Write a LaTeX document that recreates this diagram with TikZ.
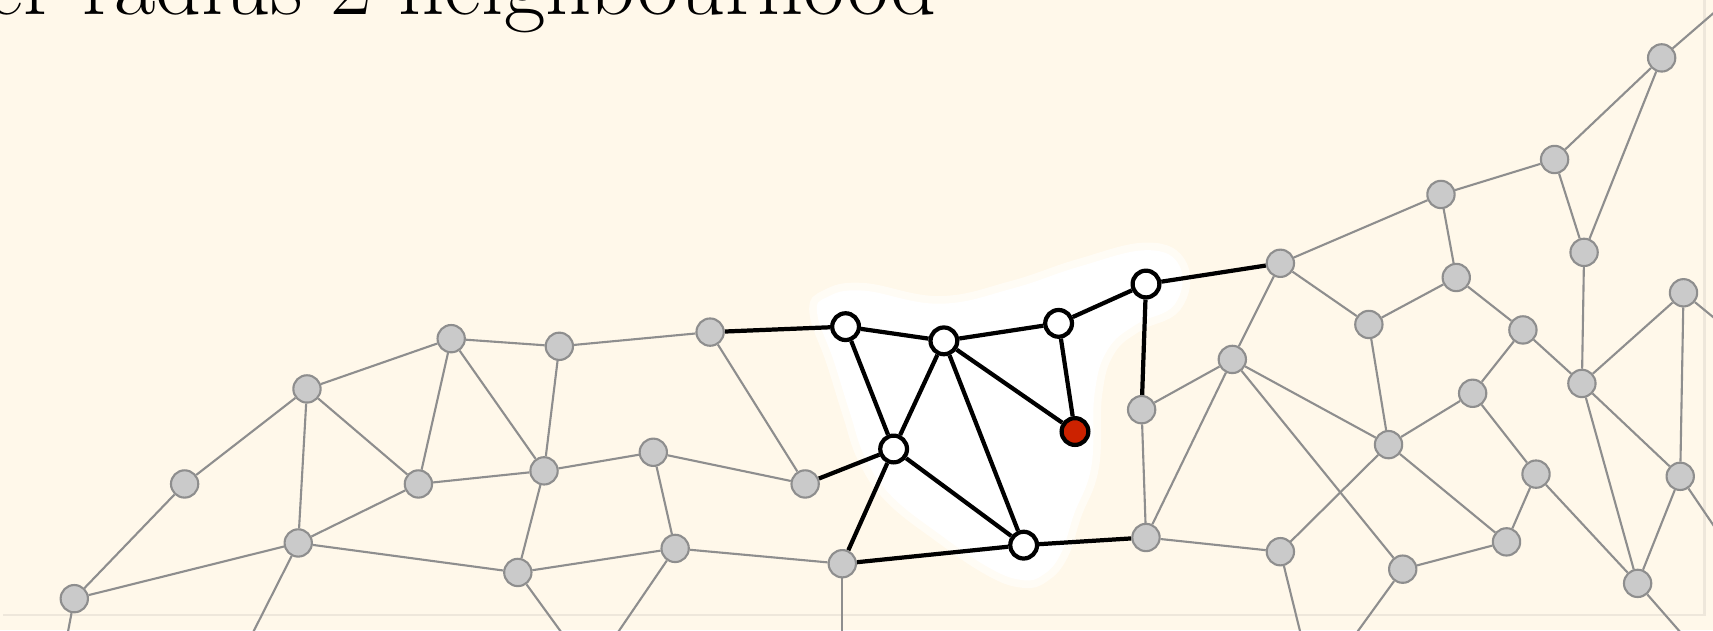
\documentclass[tikz,border=0pt]{standalone}
\usepackage{tikz}
\usetikzlibrary{positioning}
\definecolor{nbcream}{RGB}{255,248,234}
\definecolor{nbhalo}{RGB}{255,252,245}
\definecolor{nbgray}{RGB}{202,202,202}
\definecolor{nbedge}{RGB}{142,142,142}
\definecolor{nbred}{RGB}{204,34,0}
\definecolor{nbframe}{RGB}{238,231,219}
\pgfdeclarelayer{back}
\pgfdeclarelayer{links}
\pgfsetlayers{back,links,main}

\begin{document}
\begin{tikzpicture}[x=0.1mm, y=-0.1mm,
  gnode/.style={circle, inner sep=0pt, minimum size=2.5mm, fill=nbgray, draw=nbedge, line width=0.55pt},
  hnode/.style={circle, inner sep=0pt, minimum size=2.45mm, fill=white, draw=black, line width=1.1pt},
  rootnode/.style={hnode, fill=nbred},
  gedge/.style={nbedge, line width=0.55pt},
  hedge/.style={black, line width=1.1pt}]
\useasboundingbox (0,0) rectangle (1568,577);
\clip (0,0) rectangle (1568,577);
% Background, frame and neighbourhood blob
\begin{pgfonlayer}{back}
\clip (0,0) rectangle (1568,577);
\fill[nbcream] (0,0) rectangle (1568,577);
\draw[nbframe, line width=0.25mm] (3,563) -- (1560,563) -- (1560,0);
\draw[nbhalo, line width=1.4mm, fill=white] plot[smooth cycle, tension=0.7] coordinates {
  (748,287) (757,272) (790,266) (860,278) (927,264) (988,244) (1050,229) (1080,244)
  (1075,279) (1040,297) (1014,320) (1002,360) (999,427) (983,471) (971,507) (955,526)
  (936,531) (906,520) (860,489) (816,454) (792,419) (778,378) (763,330)};
\fill[white] plot[smooth cycle, tension=0.7] coordinates {
  (748,287) (757,272) (790,266) (860,278) (927,264) (988,244) (1050,229) (1080,244)
  (1075,279) (1040,297) (1014,320) (1002,360) (999,427) (983,471) (971,507) (955,526)
  (936,531) (906,520) (860,489) (816,454) (792,419) (778,378) (763,330)};
\end{pgfonlayer}
% Title
\node[anchor=base west, inner sep=0pt, font=\fontsize{23.5}{26}\selectfont] (title) at (-13,13) {er radius 2 neighbourhood};
% Grey vertices
\foreach \n/\x/\y in {l1/68/548, l2/169/443, l3/281/356, l4/273/497, l5/413/310, l6/383/443,
  l7/512/317, l8/498/431, l9/474/524, l10/598/414, l11/618/502, l12/650/304, l13/737/443, l14/771/516,
  r1/1045/375, r2/1049/492, r3/1172/241, r4/1128/329, r5/1172/505, r6/1253/297, r7/1271/407,
  r8/1284/521, r9/1319/178, r10/1333/254, r11/1348/360, r12/1379/496, r13/1394/302, r14/1406/434,
  r15/1423/146, r16/1450/231, r17/1448/351, r18/1499/534, r19/1538/436, r20/1541/268, r21/1521/53}
  \node[gnode] (\n) at (\x,\y) {};
% Radius-2 neighbourhood
\foreach \n/\x/\y in {h1/774/299, h2/864/312, h3/969/296, h4/1049/260, h5/818/411, h6/937/499}
  \node[hnode] (\n) at (\x,\y) {};
\node[rootnode] (root) at (984,395) {};
% Free ends off the picture
\foreach \n/\x/\y in {o1/60/590, o2/226/590, o3/522/590, o4/558/590, o5/771/590, o6/1193/590,
  o7/1234/590, o8/1548/590, o9/1578/495, o10/1580/300, o11/1580/2}
  \coordinate (\n) at (\x,\y);
\begin{pgfonlayer}{links}
\clip (0,0) rectangle (1568,577);
\foreach \a/\b in {l1/l2, l1/l4, l2/l3, l3/l5, l3/l6, l3/l4, l4/l6, l4/l9, l5/l7, l5/l6, l5/l8,
  l6/l8, l7/l8, l7/l12, l8/l10, l8/l9, l9/l11, l10/l11, l10/l13, l11/l14, l12/l13,
  r1/r2, r1/r4, r2/r4, r2/r5, r3/r4, r3/r6, r3/r9, r4/r7, r4/r8, r5/r7, r6/r10, r6/r7,
  r7/r11, r7/r12, r8/r12, r9/r10, r9/r15, r10/r13, r11/r13, r11/r14, r12/r14, r13/r17,
  r14/r18, r15/r16, r15/r21, r16/r21, r16/r17, r17/r20, r17/r19, r17/r18, r18/r19, r19/r20,
  l1/o1, l4/o2, l9/o3, l11/o4, l14/o5, r5/o6, r8/o7, r18/o8, r19/o9, r20/o10, r21/o11}
  \draw[gedge] (\a) -- (\b);
\foreach \a/\b in {l12/h1, h1/h2, h1/h5, h2/h3, h2/h5, h2/h6, h2/root, h3/root, h3/h4,
  h4/r3, h4/r1, h5/l13, h5/l14, h5/h6, h6/l14, h6/r2}
  \draw[hedge] (\a) -- (\b);
\end{pgfonlayer}
\end{tikzpicture}
\end{document}
